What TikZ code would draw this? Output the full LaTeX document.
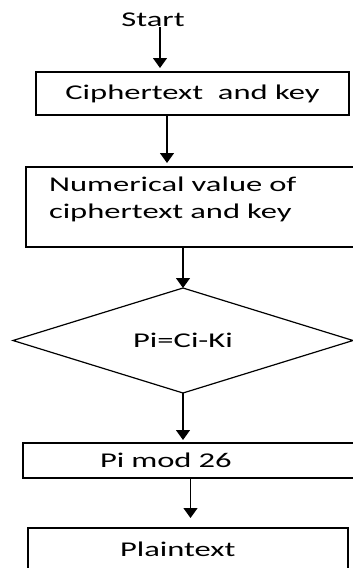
\documentclass[tikz,border=0pt]{standalone}
\usepackage{fontspec}
\setmainfont{Carlito}[FakeStretch=1.55]
\usetikzlibrary{shapes.geometric,arrows.meta}

\begin{document}
\begin{tikzpicture}[x=1pt,y=-1pt,
  every node/.style={font=\fontsize{21}{27}\selectfont, outer sep=0pt, inner sep=0pt},
  box/.style={draw, line width=1.2pt},
  decision/.style={draw, diamond, aspect=3.2, line width=1.2pt, minimum width=340pt, minimum height=105pt},
  arr/.style={-{Triangle[width=14pt,length=10pt]}, line width=1.2pt}]
\useasboundingbox (0,0) rectangle (353,568);
\clip (0,0) rectangle (353,568);

\node (start) at (153,20) {Start};
\node[box, minimum width=313pt, minimum height=43pt] (cipher) at (192.5,93.5) {Ciphertext\ \ and key};
\node[box, minimum width=340pt, minimum height=80pt, align=left, text width=294pt, text depth=45pt] (numval) at (196,207) {Numerical value of\\ciphertext and key};
\node[decision] (pci) at (183,340.5) {Pi=Ci-Ki};
\node[box, minimum width=347pt, minimum height=35pt, align=left, text width=193pt] (pmod) at (196.5,460.5) {Pi mod 26};
\node[box, minimum width=320pt, minimum height=42pt, align=left, text width=136pt] (plain) at (188,549) {Plaintext};

\draw[arr, shorten >=4pt] ([xshift=7pt]start.south) -- ([xshift=-32.5pt]cipher.north);
\draw[arr, shorten >=4pt] ([xshift=-25.5pt]cipher.south) -- ([xshift=-29pt]numval.north);
\draw[arr] ([xshift=-13pt]numval.south) -- (pci.north);
\draw[arr, shorten >=3pt] (pci.south) -- ([xshift=-13.5pt]pmod.north);
\draw[arr, shorten >=10pt] ([xshift=-6pt]pmod.south) -- ([xshift=2.5pt]plain.north);
\end{tikzpicture}
\end{document}
